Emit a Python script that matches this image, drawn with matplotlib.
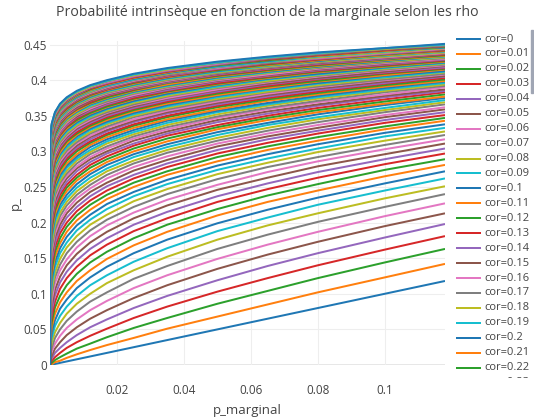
import matplotlib
matplotlib.use("Agg")
import matplotlib.pyplot as plt

p_marginal = [0, 0.0001, 0.0005, 0.0015, 0.003, 0.005, 0.008, 0.012, 0.017, 0.025,
              0.035, 0.05, 0.065, 0.08, 0.1, 0.118]

cor = [0, 0.01, 0.02, 0.03, 0.04, 0.05, 0.06, 0.07, 0.08, 0.09,
       0.1, 0.11, 0.12, 0.13, 0.14, 0.15, 0.16, 0.17, 0.18, 0.19,
       0.2, 0.21, 0.22, 0.23, 0.24, 0.25, 0.26, 0.27, 0.28, 0.29,
       0.3, 0.31, 0.32, 0.33, 0.34, 0.35, 0.36, 0.37, 0.38, 0.39,
       0.4, 0.41, 0.42, 0.43, 0.44, 0.45, 0.46, 0.47, 0.48, 0.49,
       0.5, 0.51, 0.52, 0.53, 0.54, 0.55, 0.56, 0.57, 0.58, 0.59,
       0.6, 0.61, 0.62, 0.63, 0.64, 0.65, 0.66, 0.67, 0.68, 0.69,
       0.7, 0.71, 0.72, 0.73, 0.74, 0.75, 0.76, 0.77, 0.78, 0.79,
       0.8, 0.81, 0.82, 0.83, 0.84, 0.85, 0.86, 0.87, 0.88, 0.89,
       0.9, 0.91, 0.92, 0.93, 0.94, 0.95, 0.96, 0.97, 0.98, 0.99, 1]

# p_ for each cor (one row per curve), in thousandths, at the p_marginal points above
p_permille = [
    [0, 0.1, 0.5, 1.5, 3, 5, 8, 12, 17, 25, 35, 50, 65, 80, 100, 118],
    [0, 0, 1, 4, 6, 10, 15, 21, 28, 38, 51, 68, 85, 102, 123, 142],
    [0, 1, 3, 7, 11, 16, 23, 30, 39, 52, 66, 86, 104, 122, 144, 163],
    [0, 2, 6, 11, 17, 24, 32, 41, 51, 66, 82, 103, 122, 140, 162, 181],
    [0, 4, 9, 17, 24, 32, 42, 53, 64, 80, 97, 119, 139, 157, 179, 198],
    [0, 6, 13, 23, 32, 42, 53, 65, 77, 94, 112, 135, 155, 173, 195, 213],
    [0, 9, 19, 30, 41, 52, 64, 77, 90, 108, 126, 149, 169, 187, 209, 227],
    [0, 13, 24, 38, 50, 62, 75, 89, 102, 121, 139, 163, 183, 201, 222, 240],
    [0, 17, 31, 46, 59, 72, 86, 100, 115, 133, 152, 176, 196, 213, 234, 251],
    [0, 22, 38, 55, 69, 82, 97, 112, 126, 145, 164, 188, 207, 225, 245, 262],
    [0, 28, 45, 63, 79, 92, 108, 123, 138, 157, 176, 199, 218, 235, 255, 272],
    [0, 33, 53, 72, 88, 102, 118, 133, 149, 168, 187, 210, 229, 245, 265, 281],
    [0, 40, 60, 81, 97, 112, 128, 144, 159, 178, 197, 219, 238, 254, 274, 289],
    [0, 46, 68, 89, 107, 122, 138, 154, 169, 188, 206, 229, 247, 263, 282, 297],
    [0, 52, 76, 98, 116, 131, 147, 163, 178, 197, 215, 237, 255, 271, 289, 304],
    [0, 59, 83, 106, 124, 140, 156, 172, 187, 206, 224, 246, 263, 279, 296, 311],
    [0, 66, 91, 115, 133, 148, 165, 181, 196, 214, 232, 253, 271, 286, 303, 317],
    [0, 72, 99, 123, 141, 157, 173, 189, 204, 222, 240, 261, 278, 292, 309, 323],
    [0, 79, 106, 130, 149, 165, 181, 197, 211, 230, 247, 268, 284, 299, 315, 328],
    [0, 86, 113, 138, 157, 172, 189, 204, 219, 237, 254, 274, 290, 304, 321, 333],
    [0, 92, 120, 145, 164, 180, 196, 211, 226, 243, 260, 280, 296, 310, 326, 338],
    [0, 99, 127, 152, 171, 187, 203, 218, 233, 250, 267, 286, 302, 315, 331, 343],
    [0, 105, 134, 159, 178, 194, 210, 225, 239, 256, 272, 292, 307, 320, 335, 347],
    [0, 112, 141, 166, 185, 200, 216, 231, 245, 262, 278, 297, 312, 325, 340, 351],
    [0, 118, 147, 172, 191, 207, 222, 237, 251, 267, 283, 302, 317, 329, 344, 355],
    [0, 124, 153, 179, 197, 213, 228, 243, 256, 273, 288, 307, 321, 333, 348, 359],
    [0, 130, 160, 185, 203, 218, 234, 248, 262, 278, 293, 311, 325, 337, 351, 362],
    [0, 136, 165, 190, 209, 224, 239, 253, 267, 283, 298, 315, 329, 341, 355, 366],
    [0, 141, 171, 196, 214, 229, 244, 258, 272, 287, 302, 319, 333, 345, 358, 369],
    [0, 147, 177, 202, 220, 234, 249, 263, 276, 292, 306, 323, 337, 348, 361, 372],
    [0, 152, 182, 207, 225, 239, 254, 268, 281, 296, 310, 327, 340, 352, 365, 375],
    [0, 157, 187, 212, 230, 244, 259, 272, 285, 300, 314, 331, 344, 355, 367, 377],
    [0, 162, 192, 217, 234, 249, 263, 277, 289, 304, 318, 334, 347, 358, 370, 380],
    [0, 167, 197, 221, 239, 253, 267, 281, 293, 308, 322, 337, 350, 361, 373, 383],
    [0, 172, 202, 226, 243, 257, 272, 285, 297, 311, 325, 341, 353, 364, 376, 385],
    [0, 177, 206, 230, 248, 262, 276, 289, 300, 315, 328, 344, 356, 366, 378, 387],
    [0, 181, 211, 235, 252, 266, 279, 292, 304, 318, 331, 347, 359, 369, 380, 390],
    [0, 186, 215, 239, 256, 269, 283, 296, 307, 321, 334, 349, 361, 371, 383, 392],
    [0, 190, 219, 243, 259, 273, 287, 299, 311, 324, 337, 352, 364, 374, 385, 394],
    [0, 194, 223, 247, 263, 277, 290, 302, 314, 327, 340, 355, 366, 376, 387, 396],
    [0, 198, 227, 250, 267, 280, 293, 306, 317, 330, 343, 357, 368, 378, 389, 398],
    [0, 202, 231, 254, 270, 283, 296, 309, 320, 333, 345, 359, 371, 380, 391, 399],
    [0, 206, 234, 257, 274, 287, 300, 312, 323, 336, 348, 362, 373, 382, 393, 401],
    [0, 210, 238, 261, 277, 290, 303, 314, 325, 338, 350, 364, 375, 384, 395, 403],
    [0, 213, 241, 264, 280, 293, 305, 317, 328, 341, 353, 366, 377, 386, 396, 405],
    [0, 217, 245, 267, 283, 296, 308, 320, 330, 343, 355, 368, 379, 388, 398, 406],
    [0, 220, 248, 270, 286, 298, 311, 322, 333, 345, 357, 370, 381, 390, 400, 408],
    [0, 223, 251, 273, 289, 301, 313, 325, 335, 348, 359, 372, 383, 391, 401, 409],
    [0, 227, 254, 276, 291, 304, 316, 327, 338, 350, 361, 374, 384, 393, 403, 411],
    [0, 230, 257, 279, 294, 306, 318, 330, 340, 352, 363, 376, 386, 395, 404, 412],
    [0, 233, 260, 282, 297, 309, 321, 332, 342, 354, 365, 378, 388, 396, 406, 413],
    [0, 236, 263, 284, 299, 311, 323, 334, 344, 356, 367, 379, 389, 398, 407, 415],
    [0, 239, 266, 287, 302, 314, 325, 336, 346, 358, 369, 381, 391, 399, 409, 416],
    [0, 242, 268, 289, 304, 316, 327, 338, 348, 360, 370, 383, 392, 401, 410, 417],
    [0, 244, 271, 292, 306, 318, 330, 340, 350, 361, 372, 384, 394, 402, 411, 418],
    [0, 247, 273, 294, 309, 320, 332, 342, 352, 363, 374, 386, 395, 403, 412, 420],
    [0, 249, 276, 296, 311, 322, 334, 344, 354, 365, 375, 387, 397, 405, 414, 421],
    [0, 252, 278, 299, 313, 324, 336, 346, 355, 366, 377, 389, 398, 406, 415, 422],
    [0, 254, 280, 301, 315, 326, 337, 348, 357, 368, 378, 390, 399, 407, 416, 423],
    [0, 257, 283, 303, 317, 328, 339, 349, 359, 370, 380, 391, 401, 408, 417, 424],
    [0, 259, 285, 305, 319, 330, 341, 351, 360, 371, 381, 393, 402, 409, 418, 425],
    [0, 261, 287, 307, 321, 332, 343, 353, 362, 373, 383, 394, 403, 411, 419, 426],
    [0, 264, 289, 309, 323, 334, 344, 354, 363, 374, 384, 395, 404, 412, 420, 427],
    [0, 266, 291, 311, 324, 335, 346, 356, 365, 375, 385, 396, 405, 413, 421, 428],
    [0, 268, 293, 312, 326, 337, 348, 357, 366, 377, 386, 398, 406, 414, 422, 429],
    [0, 270, 295, 314, 328, 339, 349, 359, 368, 378, 388, 399, 407, 415, 423, 430],
    [0, 272, 297, 316, 329, 340, 351, 360, 369, 379, 389, 400, 408, 416, 424, 430],
    [0, 274, 298, 318, 331, 342, 352, 362, 370, 381, 390, 401, 410, 417, 425, 431],
    [0, 276, 300, 319, 333, 343, 353, 363, 372, 382, 391, 402, 410, 418, 426, 432],
    [0, 278, 302, 321, 334, 345, 355, 364, 373, 383, 392, 403, 411, 419, 427, 433],
    [0, 279, 304, 322, 336, 346, 356, 366, 374, 384, 393, 404, 412, 419, 427, 434],
    [0, 281, 305, 324, 337, 347, 357, 367, 375, 385, 394, 405, 413, 420, 428, 434],
    [0, 283, 307, 325, 338, 349, 359, 368, 376, 386, 396, 406, 414, 421, 429, 435],
    [0, 285, 308, 327, 340, 350, 360, 369, 378, 387, 397, 407, 415, 422, 430, 436],
    [0, 286, 310, 328, 341, 351, 361, 371, 379, 388, 397, 408, 416, 423, 430, 437],
    [0, 288, 311, 330, 342, 353, 362, 371, 380, 389, 398, 409, 417, 424, 431, 437],
    [0, 289, 313, 331, 344, 354, 364, 373, 381, 390, 399, 410, 418, 425, 432, 438],
    [0, 291, 314, 332, 345, 355, 365, 374, 382, 391, 400, 410, 418, 425, 433, 439],
    [0, 292, 316, 334, 346, 356, 366, 375, 383, 392, 401, 411, 419, 426, 433, 439],
    [0, 294, 317, 335, 347, 357, 367, 376, 384, 393, 402, 412, 420, 427, 434, 440],
    [0, 295, 318, 336, 349, 358, 368, 377, 385, 394, 403, 413, 421, 427, 435, 441],
    [0, 297, 320, 337, 350, 359, 369, 378, 386, 395, 404, 414, 421, 428, 435, 441],
    [0, 298, 321, 339, 351, 360, 370, 379, 387, 396, 405, 414, 422, 429, 436, 442],
    [0, 299, 322, 340, 352, 361, 371, 380, 387, 397, 405, 415, 423, 429, 437, 442],
    [0, 301, 323, 341, 353, 363, 372, 381, 388, 398, 406, 416, 424, 430, 437, 443],
    [0, 302, 324, 342, 354, 363, 373, 381, 389, 398, 407, 417, 424, 431, 438, 443],
    [0, 303, 326, 343, 355, 364, 374, 382, 390, 399, 408, 417, 425, 431, 438, 444],
    [0, 304, 327, 344, 356, 365, 375, 383, 391, 400, 408, 418, 425, 432, 439, 445],
    [0, 305, 328, 345, 357, 366, 376, 384, 392, 401, 409, 419, 426, 432, 439, 445],
    [0, 307, 329, 346, 358, 367, 376, 385, 392, 401, 410, 419, 426, 433, 440, 446],
    [0, 308, 330, 347, 359, 368, 377, 386, 393, 402, 410, 420, 427, 434, 441, 446],
    [0, 309, 331, 348, 360, 369, 378, 386, 394, 403, 411, 421, 428, 434, 441, 447],
    [0, 310, 332, 349, 361, 370, 379, 387, 395, 404, 412, 421, 428, 435, 442, 447],
    [0, 311, 333, 350, 361, 371, 380, 388, 395, 404, 412, 422, 429, 435, 442, 448],
    [0, 312, 334, 351, 362, 371, 380, 389, 396, 405, 413, 422, 430, 436, 443, 448],
    [0, 313, 335, 351, 363, 372, 381, 389, 397, 406, 414, 423, 430, 436, 443, 448],
    [0, 314, 336, 352, 364, 373, 382, 390, 397, 406, 414, 423, 431, 437, 444, 449],
    [0, 315, 336, 353, 365, 374, 383, 391, 398, 407, 415, 424, 431, 437, 444, 449],
    [0, 316, 337, 354, 365, 374, 383, 391, 399, 407, 415, 425, 432, 438, 444, 450],
    [0, 317, 338, 355, 366, 375, 384, 392, 399, 408, 416, 425, 432, 438, 445, 450],
    [0, 318, 339, 355, 367, 376, 385, 393, 400, 409, 417, 426, 433, 439, 445, 451],
]

y_ticks = [0, 0.05, 0.1, 0.15, 0.2, 0.25, 0.3, 0.35, 0.4, 0.45]
y_labels = ['0', '0.05', '0.1', '0.15', '0.2', '0.25', '0.3', '0.35', '0.4', '0.45']
x_ticks = [0.02, 0.04, 0.06, 0.08, 0.1]
x_labels = ['0.02', '0.04', '0.06', '0.08', '0.1']

# plotly default colour cycle
COLORS = ['#1f77b4', '#ff7f0e', '#2ca02c', '#d62728', '#9467bd',
          '#8c564b', '#e377c2', '#7f7f7f', '#bcbd22', '#17becf']
TXT = '#444444'
plt.rcParams['font.family'] = ['Open Sans', 'DejaVu Sans']

W, H = 534, 419
fig = plt.figure(figsize=(W / 100, H / 100), dpi=100)

# --- main plot area (pixel box measured on the reference) ---
L, R, T, B = 50, 445, 41, 365
ax = fig.add_axes([L / W, 1 - B / H, (R - L) / W, (B - T) / H])
for i, row in enumerate(p_permille):
    ax.plot(p_marginal, [v / 1000 for v in row], color=COLORS[i % 10], lw=1.44,
            solid_capstyle='butt')
ax.set_xlim(0, p_marginal[-1])
ax.set_ylim(0, 0.455)
ax.set_yticks(y_ticks, y_labels)
ax.set_xticks(x_ticks, x_labels)
ax.tick_params(length=0, labelsize=8.5, colors=TXT)
ax.tick_params(axis='x', pad=14)
ax.tick_params(axis='y', pad=2)
ax.grid(color='#eeeeee', lw=0.75)
ax.set_axisbelow(True)
for s in ax.spines.values():
    s.set_visible(False)
ax.axhline(0, color=TXT, lw=0.9, zorder=0.5)
ax.set_xlabel('p_marginal', fontsize=9.5, color=TXT, labelpad=5)
ax.set_ylabel('p_', fontsize=9.5, color=TXT, labelpad=1)
fig.suptitle('Probabilité intrinsèque en fonction de la marginale selon les rho',
             fontsize=10.2, color=TXT, y=1 - 13 / H, va='center')

# --- scrolled legend: only the first entries fit, the rest is cut off ---
lx0, lx1, ly0, ly1 = 452, 530, 30, 378
lg = fig.add_axes([lx0 / W, 1 - ly1 / H, (lx1 - lx0) / W, (ly1 - ly0) / H])
lg.set_xlim(lx0, lx1)
lg.set_ylim(ly1, ly0)
lg.axis('off')
for i, c in enumerate(cor[:24]):
    yy = 39 + 14.94 * i
    lg.plot([457, 480], [yy, yy], color=COLORS[i % 10], lw=1.44, clip_on=True)
    lg.text(484, yy, f'cor={c:g}', fontsize=8, color=TXT, va='center', clip_on=True)
fig.patches.append(plt.Rectangle((531 / W, 1 - 93 / H), 2 / W, 63 / H,
                                 transform=fig.transFigure, color='#a0a6b4'))

fig.savefig('out.png', dpi=100)
